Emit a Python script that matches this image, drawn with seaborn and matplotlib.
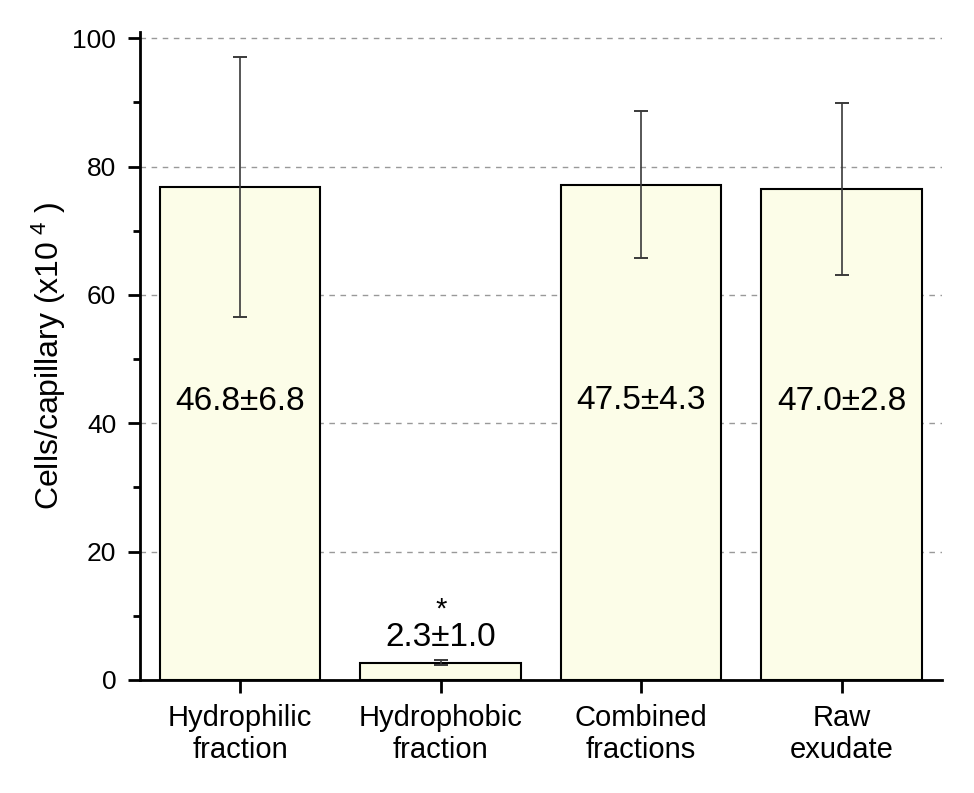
import matplotlib
matplotlib.use('Agg')
import matplotlib.pyplot as plt
import seaborn as sns

categories = ['Hydrophilic\nfraction', 'Hydrophobic\nfraction', 'Combined\nfractions', 'Raw\nexudate']
means = [76.8, 2.7, 77.2, 76.5]
errors = [20.3, 0.4, 11.5, 13.4]
bar_texts = ['46.8±6.8', '2.3±1.0', '47.5±4.3', '47.0±2.8']
text_heights = [43.4, 6.6, 43.6, 43.4]
star_marks = ['', '*', '', '']
y_ticks = [0, 20, 40, 60, 80, 100]

sns.set_style('white')
plt.rcParams['font.family'] = ['Liberation Sans', 'DejaVu Sans']
plt.rcParams['mathtext.fontset'] = 'custom'
plt.rcParams['mathtext.rm'] = 'Liberation Sans'
plt.rcParams['mathtext.it'] = 'Liberation Sans'
plt.rcParams['text.color'] = 'black'
plt.rcParams['axes.labelcolor'] = 'black'
plt.rcParams['xtick.color'] = 'black'
plt.rcParams['ytick.color'] = 'black'

fig = plt.figure(figsize=(9.74, 7.93), dpi=100)
ax = fig.add_axes([0.1437, 0.1425, 0.8233, 0.8173])

sns.barplot(x=categories, y=means, color='#FCFDE8', edgecolor='black',
            linewidth=1.5, width=0.8, saturation=1, ax=ax, zorder=2)
ax.errorbar(range(len(means)), means, yerr=errors, fmt='none', ecolor='#3a3a3a',
            elinewidth=1.2, capsize=4.7, capthick=1.4, zorder=3)

for i, txt in enumerate(bar_texts):
    ax.text(i, text_heights[i], txt, ha='center', va='center', fontsize=24, zorder=4)
    if star_marks[i]:
        ax.text(i, text_heights[i] + 4.4, star_marks[i], ha='center', va='center',
                fontsize=21, zorder=4)

ax.set_xlim(-0.5, 3.5)
ax.set_ylim(0, 101)
ax.set_yticks(y_ticks)
ax.set_yticks([10, 30, 50, 70, 90], minor=True)
ax.yaxis.grid(True, which='major', linestyle=(0, (4, 4)), color='#999999', linewidth=1.0)
ax.set_axisbelow(True)

for s in ['top', 'right']:
    ax.spines[s].set_visible(False)
for s in ['left', 'bottom']:
    ax.spines[s].set_linewidth(2.0)
    ax.spines[s].set_color('black')

ax.tick_params(axis='y', which='major', direction='out', length=9, width=2, labelsize=19, left=True, pad=8)
ax.tick_params(axis='y', which='minor', direction='out', length=5, width=2, left=True)
ax.tick_params(axis='x', which='major', direction='out', length=9, width=2, labelsize=21, bottom=True, pad=8)

ax.set_xlabel('')
ax.set_ylabel(r'Cells/capillary (x10$^{\ 4}$ )', fontsize=23, labelpad=3)

fig.savefig('out.png', dpi=100)
